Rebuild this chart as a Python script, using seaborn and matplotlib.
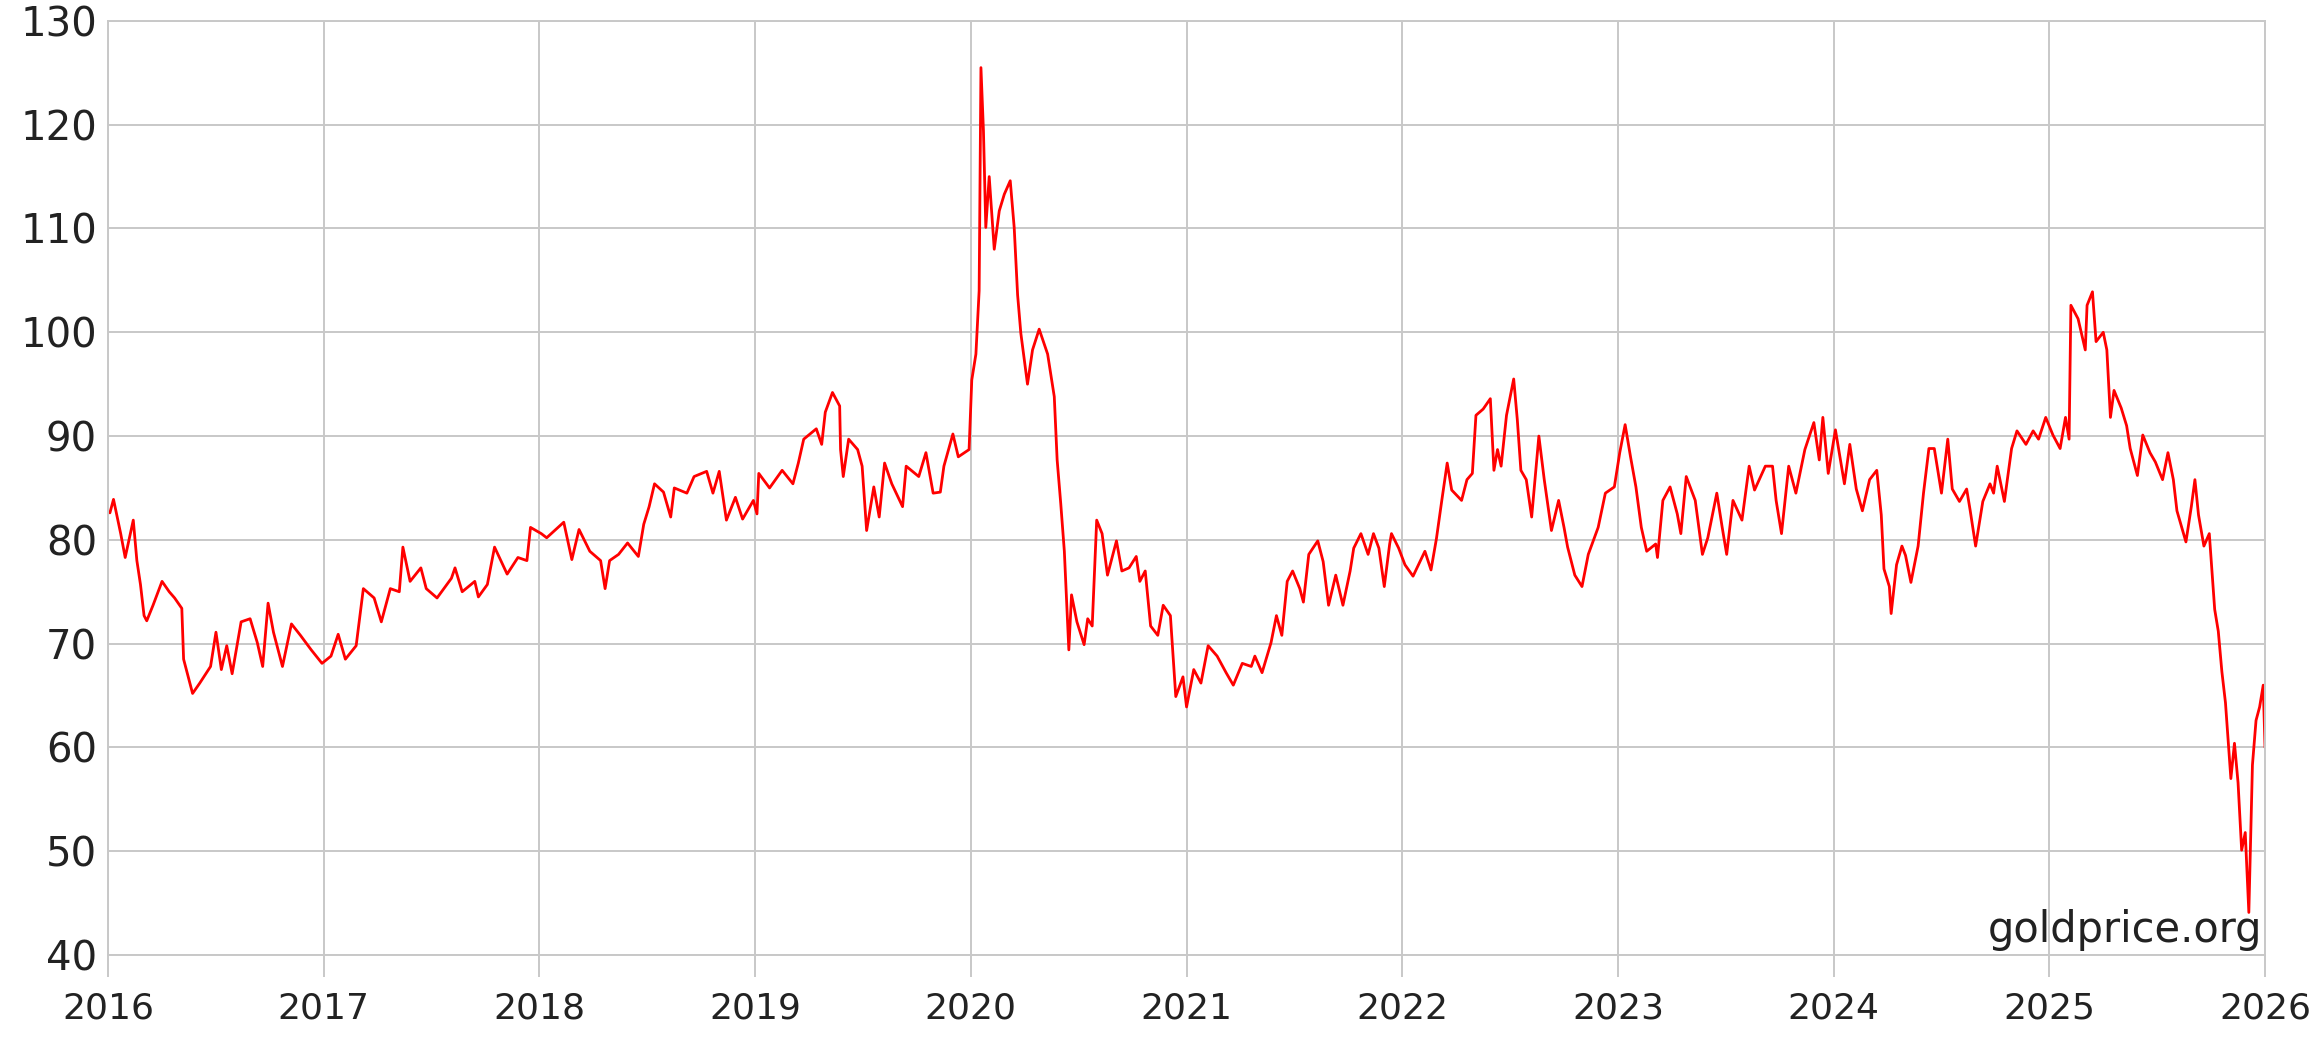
import numpy as np
import pandas as pd
import matplotlib
matplotlib.use("Agg")
import matplotlib.pyplot as plt
import seaborn as sns

# Gold / silver ratio.
# month offsets are counted from the start of each two-year block
months_2016 = [0.1, 0.3, 0.7, 0.95, 1.4, 1.6, 1.8, 2.0, 2.15, 2.5, 3.0, 3.4, 3.7, 4.1, 4.2, 4.7,
               5.1, 5.7, 6.0, 6.3, 6.6, 6.9, 7.4, 7.9, 8.3, 8.6, 8.9, 9.2, 9.7, 10.2, 10.7, 11.3,
               11.9, 12.4, 12.8, 13.2, 13.8, 14.2, 14.8, 15.2, 15.7, 16.2, 16.4, 16.8, 17.4, 17.7,
               18.3, 19.1, 19.3, 19.7, 20.4, 20.6, 21.1, 21.5, 22.2, 22.8, 23.3, 23.5]
ratio_2016 = [82.6, 83.9, 80.6, 78.3, 81.9, 78.0, 75.7, 72.7, 72.2, 73.7, 76.0, 75.0, 74.4, 73.4, 68.5, 65.2,
              66.2, 67.8, 71.1, 67.5, 69.8, 67.1, 72.1, 72.4, 70.1, 67.8, 73.9, 71.1, 67.8, 71.9, 70.8, 69.4,
              68.1, 68.8, 70.9, 68.5, 69.8, 75.3, 74.4, 72.1, 75.3, 75.0, 79.3, 76.0, 77.3, 75.3,
              74.4, 76.3, 77.3, 75.0, 76.0, 74.5, 75.7, 79.3, 76.7, 78.3, 78.0, 81.2]

months_2018 = [0.1, 0.4, 1.35, 1.8, 2.2, 2.8, 3.4, 3.65, 3.9, 4.4, 4.9, 5.5, 5.8, 6.1, 6.4, 6.9,
               7.3, 7.5, 8.2, 8.6, 9.3, 9.65, 10.0, 10.4, 10.9, 11.3, 11.9, 12.1, 12.2, 12.8, 13.5,
               14.1, 14.4, 14.7, 15.4, 15.7, 15.9, 16.3, 16.7, 16.75, 16.9, 17.2, 17.7, 17.95, 18.2,
               18.6, 18.9, 19.2, 19.6, 20.2, 20.4, 21.1, 21.5, 21.9, 22.3, 22.5, 23.0, 23.3, 23.9]
ratio_2018 = [80.6, 80.2, 81.7, 78.1, 81.0, 78.9, 78.0, 75.3, 78.0, 78.6, 79.7, 78.4, 81.5, 83.2, 85.4, 84.6,
              82.2, 85.0, 84.5, 86.1, 86.6, 84.5, 86.6, 81.9, 84.1, 82.0, 83.8, 82.5, 86.4, 85.0, 86.7,
              85.4, 87.4, 89.7, 90.7, 89.2, 92.3, 94.2, 92.9, 88.7, 86.1, 89.7, 88.7, 87.1, 80.9,
              85.1, 82.2, 87.4, 85.4, 83.2, 87.1, 86.1, 88.4, 84.5, 84.6, 87.1, 90.2, 88.0, 88.7]

months_2020 = [0.05, 0.28, 0.46, 0.56, 0.7, 0.83, 1.02, 1.3, 1.58, 1.86, 2.19, 2.41, 2.6, 2.78, 3.15,
               3.43, 3.8, 4.27, 4.64, 4.8, 5.0, 5.2, 5.45, 5.6, 5.9, 6.3, 6.5, 6.75, 7.0, 7.3, 7.6,
               7.9, 8.1, 8.4, 8.8, 9.2, 9.4, 9.7, 10.0, 10.4, 10.7, 11.1, 11.4, 11.8, 12.0, 12.4,
               12.8, 13.2, 13.7, 14.2, 14.6, 15.1, 15.6, 15.8, 16.2, 16.7, 17.0, 17.3, 17.6, 17.9,
               18.3, 18.5, 18.8, 19.3, 19.6, 19.9, 20.3, 20.7, 21.1, 21.3, 21.7, 22.1, 22.4, 22.7,
               23.0, 23.3, 23.4, 23.8]
ratio_2020 = [95.4, 97.9, 104.0, 125.5, 119.4, 110.1, 115.0, 108.0, 111.7, 113.3, 114.6, 110.1, 103.6, 99.9, 95.0,
              98.3, 100.3, 97.9, 93.8, 87.7, 83.5, 78.9, 69.4, 74.7, 72.1, 69.9, 72.4, 71.7, 81.9, 80.6, 76.6,
              78.6, 79.9, 77.0, 77.3, 78.4, 76.0, 77.0, 71.7, 70.8, 73.7, 72.7, 64.9, 66.8, 63.9, 67.5,
              66.2, 69.8, 68.8, 67.2, 66.0, 68.1, 67.8, 68.8, 67.2, 70.1, 72.7, 70.8, 76.0, 77.0,
              75.3, 74.0, 78.6, 79.9, 77.9, 73.7, 76.6, 73.7, 77.0, 79.2, 80.6, 78.6, 80.6, 79.2,
              75.5, 79.6, 80.6, 79.2]

months_2022 = [0.15, 0.6, 1.26, 1.6, 1.9, 2.2, 2.5, 2.75, 3.3, 3.6, 3.9, 4.1, 4.5, 4.9, 5.1, 5.3,
               5.5, 5.8, 6.2, 6.4, 6.6, 6.9, 7.2, 7.6, 7.9, 8.3, 8.7, 9.0, 9.2, 9.6, 10.0, 10.35,
               10.9, 11.3, 11.8, 12.1, 12.4, 12.7, 13.0, 13.3, 13.6, 14.1, 14.2, 14.5, 14.9, 15.3,
               15.5, 15.8, 16.3, 16.7, 17.0, 17.5, 17.8, 18.05, 18.4, 18.9, 19.3, 19.6, 20.2, 20.6,
               20.8, 21.1, 21.5, 21.9, 22.4, 22.9, 23.2, 23.4, 23.7]
ratio_2022 = [77.6, 76.5, 78.9, 77.1, 80.1, 83.8, 87.4, 84.8, 83.8, 85.8, 86.4, 92.0, 92.6, 93.6, 86.7, 88.7,
              87.1, 92.0, 95.5, 91.6, 86.7, 85.8, 82.2, 90.0, 85.8, 80.9, 83.8, 81.2, 79.3, 76.6, 75.5, 78.6,
              81.2, 84.5, 85.1, 88.4, 91.1, 88.0, 85.1, 81.2, 78.9, 79.6, 78.3, 83.8, 85.1, 82.5,
              80.6, 86.1, 83.8, 78.6, 80.2, 84.5, 81.2, 78.6, 83.8, 81.9, 87.1, 84.8, 87.1, 87.1,
              83.8, 80.6, 87.1, 84.5, 88.7, 91.3, 87.7, 91.8, 86.4]

months_2024 = [0.1, 0.6, 0.9, 1.26, 1.6, 2.0, 2.4, 2.65, 2.8, 3.1, 3.2, 3.5, 3.8, 4.0, 4.3, 4.7,
               5.0, 5.3, 5.6, 6.0, 6.35, 6.6, 7.0, 7.4, 7.6, 7.9, 8.3, 8.7, 8.9, 9.1, 9.5, 9.9,
               10.2, 10.7, 11.1, 11.4, 11.8, 12.2, 12.6, 12.9, 13.1, 13.2, 13.6, 14.0, 14.1, 14.4,
               14.6, 15.0, 15.2, 15.4, 15.6, 16.0, 16.3, 16.5, 16.9, 17.2, 17.6, 17.9, 18.3, 18.6,
               18.9, 19.1, 19.6, 19.9, 20.1, 20.3, 20.6, 20.9, 21.2, 21.4, 21.6, 21.8, 22.1, 22.3,
               22.5, 22.7, 22.9, 23.1, 23.3, 23.5, 23.7, 23.9, 24.0]
ratio_2024 = [90.6, 85.4, 89.2, 84.9, 82.8, 85.8, 86.7, 82.4, 77.2, 75.5, 72.9, 77.6, 79.4, 78.5, 75.9, 79.4,
              84.5, 88.8, 88.8, 84.5, 89.7, 84.9, 83.7, 84.9, 82.8, 79.4, 83.7, 85.4, 84.5, 87.1, 83.7, 88.8,
              90.5, 89.2, 90.5, 89.7, 91.8, 90.1, 88.8, 91.8, 89.7, 102.6, 101.3, 98.3, 102.6, 103.9,
              99.1, 100.0, 98.3, 91.8, 94.4, 92.7, 91.0, 88.8, 86.2, 90.1, 88.4, 87.5, 85.8, 88.4,
              85.8, 82.8, 79.8, 83.2, 85.8, 82.4, 79.4, 80.6, 73.3, 71.2, 67.3, 64.3, 57.0, 60.4,
              56.6, 50.1, 51.8, 44.1, 58.3, 62.6, 63.9, 66.0, 60.0]

block_start = [2016, 2018, 2020, 2022, 2024]
block_months = [months_2016, months_2018, months_2020, months_2022, months_2024]
block_ratio = [ratio_2016, ratio_2018, ratio_2020, ratio_2022, ratio_2024]

frames = []
for start, m, r in zip(block_start, block_months, block_ratio):
    frames.append(pd.DataFrame({"year": start + np.array(m) / 12.0, "ratio": r}))
df = pd.concat(frames, ignore_index=True)

years = list(range(2016, 2027))
y_ticks = list(range(40, 131, 10))

sns.set_style("whitegrid")
plt.rcParams["font.family"] = ["DejaVu Sans"]

grid_col = "#c8c8c8"
fig = plt.figure(figsize=(23.2, 10.46), dpi=100)
ax = fig.add_axes([0.0466, 0.087, 0.9297, 0.893])

sns.lineplot(data=df, x="year", y="ratio", color="#ff0000", linewidth=2.0, ax=ax)

ax.set_xlim(2016, 2026)
ax.set_ylim(40, 130)
ax.set_xticks(years)
ax.set_xticklabels([str(y) for y in years], fontsize=26, color="#222222")
ax.set_yticks(y_ticks)
ax.set_yticklabels([str(v) for v in y_ticks], fontsize=29, color="#222222")
ax.set_xlabel("")
ax.set_ylabel("")
ax.grid(True, color=grid_col, linewidth=1.4)
ax.tick_params(axis="x", length=16, width=1.4, color=grid_col, pad=10, bottom=True)
ax.tick_params(axis="y", length=0, pad=8)
for s in ax.spines.values():
    s.set_color(grid_col)
    s.set_linewidth(1.4)

ax.text(0.9986, 0.004, "goldprice.org", transform=ax.transAxes, ha="right", va="bottom",
        fontsize=30, color="#222222")

fig.savefig("out.png", dpi=100)
